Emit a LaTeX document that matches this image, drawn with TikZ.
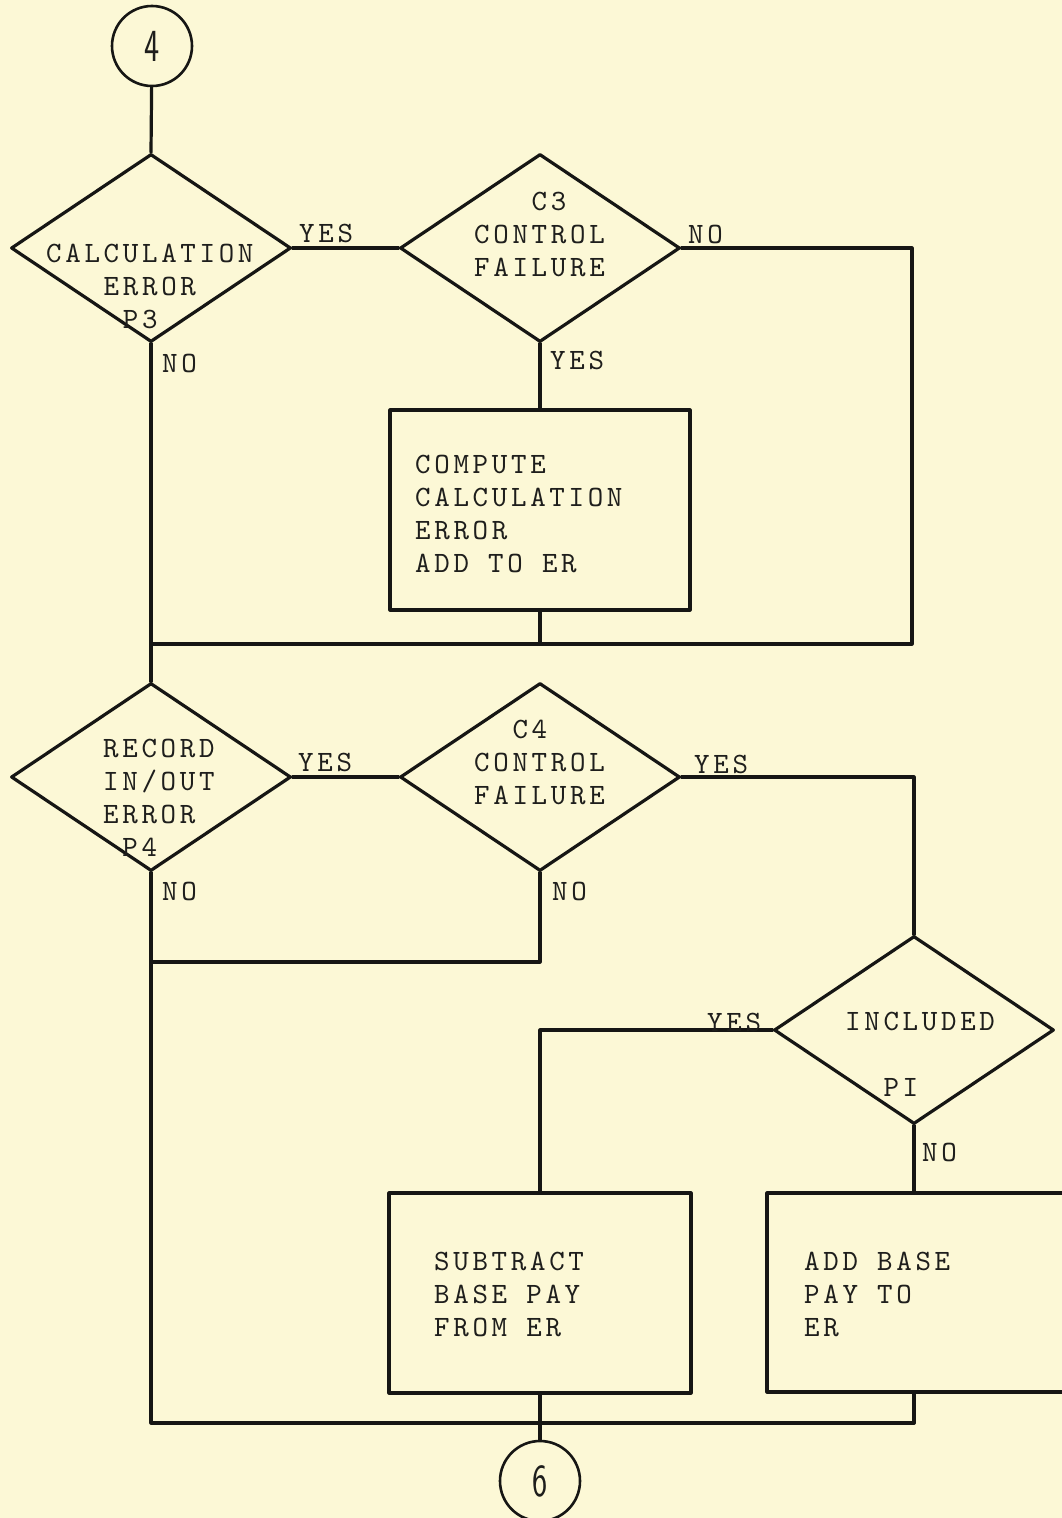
\documentclass[tikz,border=0pt]{standalone}
\usepackage{fontspec}
\newfontfamily\twfont{lmmono10-regular}[Extension=.otf, LetterSpace=12.5]
\usetikzlibrary{shapes.geometric}
\definecolor{paper}{RGB}{252,248,214}
\definecolor{ink}{RGB}{22,22,20}
\definecolor{tink}{RGB}{30,30,28}
\newcommand{\tabin}[1]{\hspace*{#1em}}
\tikzset{
  flow/.style={draw=ink, line width=3.2pt, line cap=round, line join=round},
  dia/.style={flow, shape=diamond, minimum width=280pt, minimum height=188pt, inner sep=0pt},
  procbox/.style={flow, shape=rectangle, inner sep=0pt},
  conn/.style={flow, shape=circle, minimum size=80pt, inner sep=0pt, line width=2.6pt,
    font=\sffamily\fontsize{46}{46}\selectfont, text=tink},
  txt/.style={anchor=base west, inner sep=0pt, align=left, text=tink,
    font=\twfont\fontsize{29.5}{33}\selectfont},
  line/.style={flow}
}
\begin{document}
\begin{tikzpicture}[x=1pt,y=-1pt]
\fill[paper] (0,0) rectangle (1062,1518);
\useasboundingbox (0,0) rectangle (1062,1518);
\clip (0,0) rectangle (1062,1518);

% connectors (circles)
\node[conn] (c4) at (152,46) {\scalebox{0.7}[1]{4}};
\node[conn] (c6) at (540,1481) {\scalebox{0.7}[1]{6}};

% diamonds
\node[dia] (d1) at (151,248) {};
\node[dia] (d2) at (540,248) {};
\node[dia] (d3) at (151,777) {};
\node[dia] (d4) at (540,777) {};
\node[dia] (d5) at (914,1030) {};

% process boxes
\node[procbox, minimum width=300pt, minimum height=200pt] (b1) at (540,510) {};
\node[procbox, minimum width=302pt, minimum height=200pt] (b2) at (540,1293) {};
\node[procbox, minimum width=320pt, minimum height=199pt] (b3) at (927,1292.5) {};

% texts in shapes (anchor = baseline of the last line)
\node[txt] (d1t) at (46,328) {CALCULATION\\\tabin{1.95}ERROR\\\tabin{2.6}P3};
\node[txt] (d2t) at (474,276) {\tabin{1.95}C3\\CONTROL\\FAILURE};
\node[txt] (d3t) at (103,856) {RECORD\\IN/OUT\\ERROR\\\tabin{0.65}P4};
\node[txt] (d4t) at (474,804) {\tabin{1.3}C4\\CONTROL\\FAILURE};
\node[txt] (d5t) at (845,1096) {INCLUDED\\\mbox{}\\\tabin{1.3}PI};
\node[txt] (b1t) at (415,572) {COMPUTE\\CALCULATION\\ERROR\\ADD TO ER};
\node[txt] (b2t) at (434,1336) {SUBTRACT\\BASE PAY\\FROM ER};
\node[txt] (b3t) at (804,1336) {ADD BASE\\PAY TO\\ER};

% junction coordinates
\coordinate (j0) at (151,644);
\coordinate (j1) at (912,644);
\coordinate (j2) at (151,962);
\coordinate (j3) at (151,1423);
\coordinate (j4) at (914,1423);

% connectors
\draw[line] (c4) -- (d1.north);
\draw[line] (d1.east) -- (d2.west);
\draw[line] (d2.east) -| (j1) -- (j0);
\draw[line] (d2.south) -- (b1.north);
\draw[line] (b1.south) -- (b1.south |- j1);
\draw[line] (d1.south) -- (d3.north);
\draw[line] (d3.east) -- (d4.west);
\draw[line] (d4.east) -| (d5.north);
\draw[line] (d4.south) |- (j2);
\draw[line] (d3.south) -- (j3) -- (j4);
\draw[line] (d5.west) -| (b2.north);
\draw[line] (d5.south) -- (d5.south |- b3.north);
\draw[line] (b3.south -| j4) -- (j4);
\draw[line] (b2.south) -- (c6.north);

% branch labels
\node[txt] (l1) at (299,242) {YES};
\node[txt] (l2) at (688,243) {NO};
\node[txt] (l3) at (162,372) {NO};
\node[txt] (l4) at (550,369) {YES};
\node[txt] (l5) at (298,771) {YES};
\node[txt] (l6) at (694,773) {YES};
\node[txt] (l7) at (162,900) {NO};
\node[txt] (l8) at (552,900) {NO};
\node[txt] (l9) at (707,1031) {YES};
\node[txt] (l10) at (922,1161) {NO};
\end{tikzpicture}
\end{document}
